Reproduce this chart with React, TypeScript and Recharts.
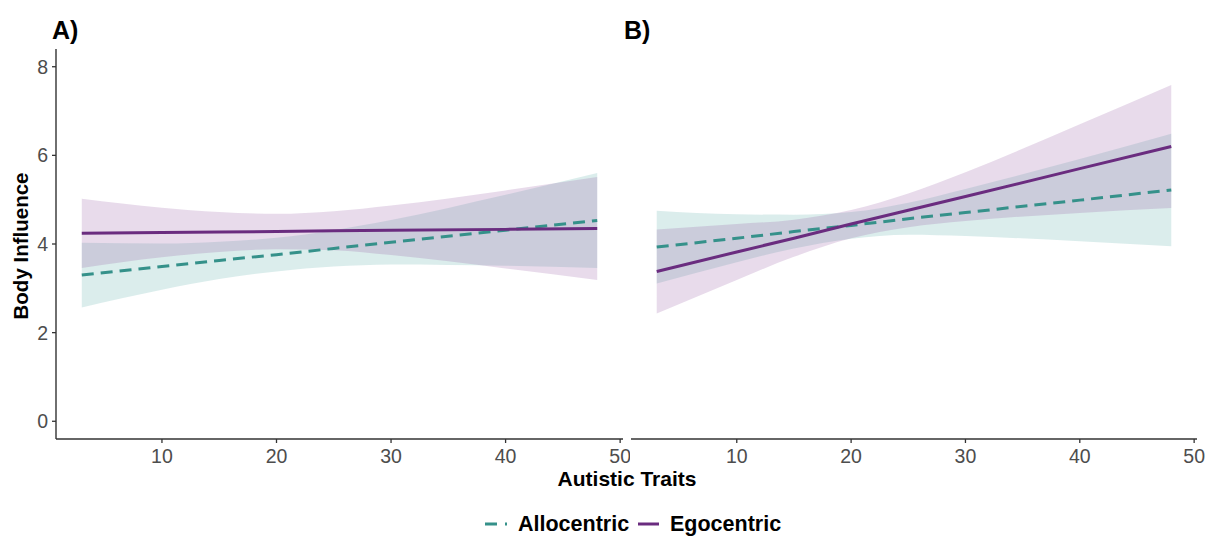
import { ComposedChart, Area, Line, XAxis, YAxis } from 'recharts';

// Autistic Traits values where the fitted lines and bands are read
const traits = [3, 10, 15, 20, 25, 30, 40, 48];
const xTicks = [10, 20, 30, 40, 50];
const yTicks = [0, 2, 4, 6, 8];

// Panel A
const alloA = [3.3, 3.49, 3.63, 3.76, 3.9, 4.04, 4.31, 4.53];
const alloALow = [2.57, 2.97, 3.21, 3.38, 3.49, 3.54, 3.51, 3.46];
const alloAHigh = [4.03, 4.01, 4.05, 4.14, 4.31, 4.54, 5.11, 5.6];
const egoA = [4.24, 4.26, 4.27, 4.28, 4.3, 4.31, 4.33, 4.35];
const egoALow = [3.46, 3.7, 3.82, 3.88, 3.86, 3.75, 3.45, 3.19];
const egoAHigh = [5.02, 4.82, 4.72, 4.68, 4.74, 4.87, 5.21, 5.51];

// Panel B
const alloB = [3.93, 4.13, 4.28, 4.42, 4.57, 4.71, 4.99, 5.22];
const alloBLow = [3.11, 3.59, 3.9, 4.12, 4.21, 4.18, 4.06, 3.95];
const alloBHigh = [4.75, 4.67, 4.66, 4.72, 4.93, 5.24, 5.92, 6.49];
const egoB = [3.38, 3.82, 4.13, 4.45, 4.76, 5.07, 5.7, 6.2];
const egoBLow = [2.43, 3.19, 3.71, 4.13, 4.38, 4.52, 4.7, 4.81];
const egoBHigh = [4.33, 4.45, 4.55, 4.77, 5.14, 5.62, 6.7, 7.59];

const FONT = '"Liberation Sans", Arial, sans-serif';
const TEAL = '#35918a';
const PURPLE = '#6a2c7f';
const AXIS = '#333333';

const buildRows = (
  allo: number[], alloLow: number[], alloHigh: number[],
  ego: number[], egoLow: number[], egoHigh: number[]
) =>
  traits.map((x, i) => ({
    x,
    allo: allo[i],
    alloBand: [alloLow[i], alloHigh[i]],
    ego: ego[i],
    egoBand: [egoLow[i], egoHigh[i]],
  }));

const rowsA = buildRows(alloA, alloALow, alloAHigh, egoA, egoALow, egoAHigh);
const rowsB = buildRows(alloB, alloBLow, alloBHigh, egoB, egoBLow, egoBHigh);

interface PanelProps {
  data: ReturnType<typeof buildRows>;
  width: number;
  margin: { top: number; right: number; left: number; bottom: number };
  showY: boolean;
}

function Panel({ data, width, margin, showY }: PanelProps) {
  return (
    <ComposedChart width={width} height={470} data={data} margin={margin}>
      <XAxis
        dataKey="x"
        type="number"
        domain={[0.75, 50.25]}
        ticks={xTicks}
        allowDataOverflow
        height={30}
        tick={{ fill: '#4d4d4d', fontSize: 19.5, fontFamily: FONT }}
        tickSize={4}
        tickMargin={6}
        tickLine={{ stroke: AXIS, strokeWidth: 1.3 }}
        axisLine={{ stroke: AXIS, strokeWidth: 1.4 }}
      />
      <YAxis
        type="number"
        domain={[-0.4, 8.4]}
        ticks={yTicks}
        allowDataOverflow
        hide={!showY}
        width={56}
        tick={{ fill: '#4d4d4d', fontSize: 19.5, fontFamily: FONT }}
        tickSize={4}
        tickMargin={4}
        tickLine={{ stroke: AXIS, strokeWidth: 1.3 }}
        axisLine={{ stroke: AXIS, strokeWidth: 1.4 }}
      />
      <Area
        type="monotone"
        dataKey="alloBand"
        stroke="none"
        fill="#3a9a93"
        fillOpacity={0.18}
        isAnimationActive={false}
      />
      <Line
        type="linear"
        dataKey="allo"
        stroke={TEAL}
        strokeWidth={3}
        strokeDasharray="12 7"
        dot={false}
        isAnimationActive={false}
      />
      <Area
        type="monotone"
        dataKey="egoBand"
        stroke="none"
        fill="#8e4a9c"
        fillOpacity={0.2}
        isAnimationActive={false}
      />
      <Line
        type="linear"
        dataKey="ego"
        stroke={PURPLE}
        strokeWidth={3}
        dot={false}
        isAnimationActive={false}
      />
    </ComposedChart>
  );
}

export default function App() {
  return (
    <div
      style={{
        position: 'absolute',
        left: 0,
        top: 0,
        width: 1214,
        height: 537,
        background: '#fff',
        fontFamily: FONT,
        overflow: 'hidden',
      }}
    >
      <div style={{ position: 'absolute', left: 0, top: 0 }}>
        <Panel data={rowsA} width={630} margin={{ top: 49, right: 7, left: 0, bottom: 1 }} showY />
      </div>
      <div style={{ position: 'absolute', left: 600, top: 0 }}>
        <Panel data={rowsB} width={614} margin={{ top: 49, right: 17, left: 31, bottom: 1 }} showY={false} />
      </div>
      <svg
        width={1214}
        height={537}
        style={{ position: 'absolute', left: 0, top: 0, pointerEvents: 'none' }}
      >
        <text x={52} y={39} fontSize={25} fontWeight="bold" fill="#000" fontFamily={FONT}>
          A)
        </text>
        <text x={624} y={39} fontSize={25} fontWeight="bold" fill="#000" fontFamily={FONT}>
          B)
        </text>
        <text
          x={627}
          y={486}
          fontSize={21}
          fontWeight="bold"
          fill="#000"
          textAnchor="middle"
          fontFamily={FONT}
        >
          Autistic Traits
        </text>
        <text
          transform="translate(28,246) rotate(-90)"
          fontSize={20.5}
          fontWeight="bold"
          fill="#000"
          textAnchor="middle"
          fontFamily={FONT}
        >
          Body Influence
        </text>
        <line x1={485} y1={524} x2={507} y2={524} stroke={TEAL} strokeWidth={3} strokeDasharray="12 8" />
        <text x={518} y={531} fontSize={21.5} fontWeight="bold" fill="#000" fontFamily={FONT}>
          Allocentric
        </text>
        <line x1={638} y1={524} x2={659} y2={524} stroke={PURPLE} strokeWidth={3} />
        <text x={670} y={531} fontSize={21.5} fontWeight="bold" fill="#000" fontFamily={FONT}>
          Egocentric
        </text>
      </svg>
    </div>
  );
}
